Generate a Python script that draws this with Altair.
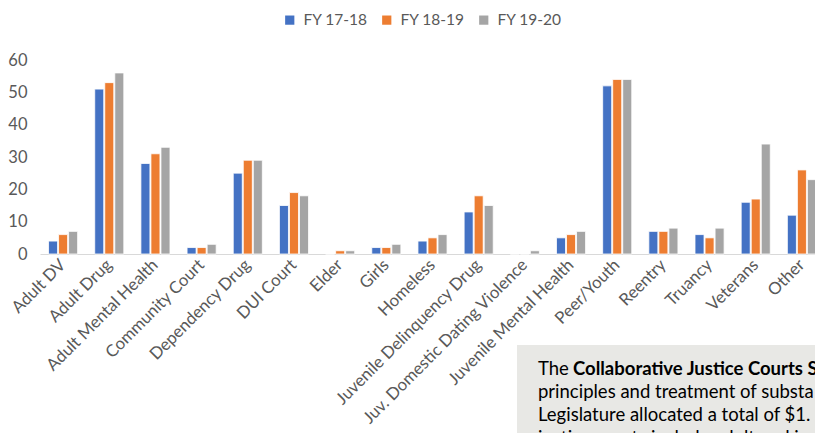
import altair as alt
import pandas as pd

categories = ["Adult DV", "Adult Drug", "Adult Mental Health", "Community Court",
              "Dependency Drug", "DUI Court", "Elder", "Girls", "Homeless",
              "Juvenile Delinquency Drug", "Juv. Domestic Dating Violence",
              "Juvenile Mental Health", "Peer/Youth", "Reentry", "Truancy",
              "Veterans", "Other"]
series = ["FY 17-18", "FY 18-19", "FY 19-20"]
fy1718 = [4, 51, 28, 2, 25, 15, 0, 2, 4, 13, 0, 5, 52, 7, 6, 16, 12]
fy1819 = [6, 53, 31, 2, 29, 19, 1, 2, 5, 18, 0, 6, 54, 7, 5, 17, 26]
fy1920 = [7, 56, 33, 3, 29, 18, 1, 3, 6, 15, 1, 7, 54, 8, 8, 34, 23]
colors = ["#4472C4", "#ED7D31", "#A5A5A5"]
y_ticks = [0, 10, 20, 30, 40, 50, 60]

box_normal = ["The ", "principles and treatment of substa",
              "Legislature allocated a total of $1.", "justice courts include adult and ju"]
box_bold = "Collaborative Justice Courts S"

rows = []
for s, vals in zip(series, [fy1718, fy1819, fy1920]):
    for c, v in zip(categories, vals):
        rows.append({"category": c, "series": s, "value": v})
df = pd.DataFrame(rows)

FONT = "Lato"

bars = alt.Chart(df).mark_bar(stroke="white", strokeWidth=0.8).encode(
    x=alt.X("category:N", sort=categories,
            scale=alt.Scale(paddingInner=0.37, paddingOuter=0.185, range=[0, 785]),
            axis=alt.Axis(title=None, labelAngle=-45, labelAlign="right",
                          labelBaseline="middle", labelFontSize=16.8,
                          labelColor="#595959", labelFont=FONT, ticks=False,
                          domain=True, domainColor="#D9D9D9", domainWidth=1.2,
                          labelPadding=8, labelLimit=400, grid=False)),
    xOffset=alt.XOffset("series:N", sort=series,
                        scale=alt.Scale(paddingInner=0.1, paddingOuter=0)),
    y=alt.Y("value:Q", scale=alt.Scale(domain=[0, 60], nice=False),
            axis=alt.Axis(title=None, values=y_ticks, grid=False, ticks=False,
                          domain=False, labelFontSize=16.5, labelColor="#595959",
                          labelFont=FONT, labelPadding=13)),
    color=alt.Color("series:N", sort=series,
                    scale=alt.Scale(domain=series, range=colors),
                    legend=alt.Legend(title=None, orient="none", legendX=242,
                                      legendY=-48, direction="horizontal",
                                      symbolType="square", symbolSize=85,
                                      symbolStrokeWidth=0, labelFontSize=15.5,
                                      labelColor="#595959", labelFont=FONT,
                                      labelOffset=6, columnPadding=11,
                                      padding=0)),
)

box_df = pd.DataFrame({"k": [0]})
box = alt.Chart(box_df).mark_rect(color="#E8E8E5").encode(
    x=alt.value(477), x2=alt.value(800), y=alt.value(285), y2=alt.value(420)
)

line_y = [315, 338, 361, 384]
text_layers = []
for i, t in enumerate(box_normal):
    text_layers.append(
        alt.Chart(pd.DataFrame({"t": [t]})).mark_text(
            align="left", baseline="alphabetic", fontSize=18.5, font=FONT,
            color="#000000").encode(
            text="t:N", x=alt.value(498), y=alt.value(line_y[i]))
    )
text_layers.append(
    alt.Chart(pd.DataFrame({"t": [box_bold]})).mark_text(
        align="left", baseline="alphabetic", fontSize=18.5, font=FONT,
        fontWeight="bold", color="#000000").encode(
        text="t:N", x=alt.value(533), y=alt.value(line_y[0]))
)

chart = alt.layer(bars, box, *text_layers).properties(
    width=775, height=194,
    autosize=alt.AutoSizeParams(type="none"),
    padding={"left": 32, "top": 52, "right": 0, "bottom": 179},
).configure(background="white").configure_view(
    stroke="transparent", strokeWidth=0
).configure_axis(domain=False, grid=False)

chart.save("out.html", embed_options={"renderer": "svg", "actions": False})
